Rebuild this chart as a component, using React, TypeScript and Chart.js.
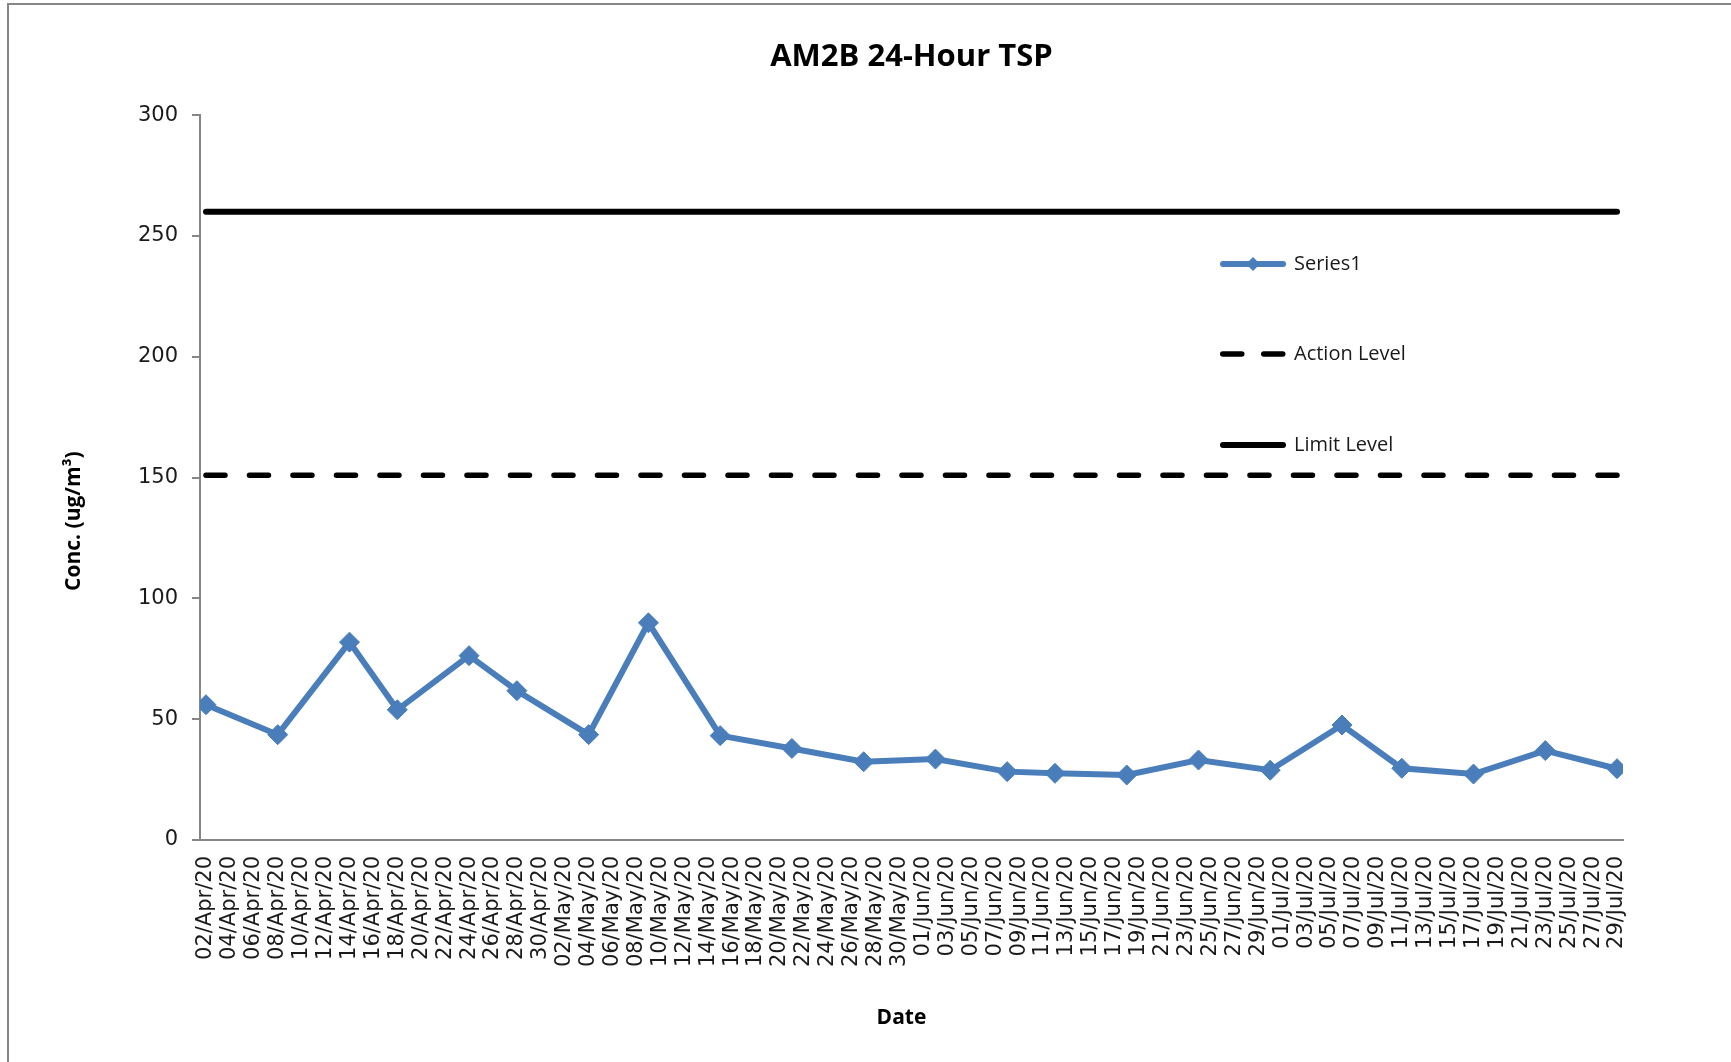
import React, { useEffect, useRef } from "react";
import { Chart, registerables } from "chart.js";

Chart.register(...registerables);

// ---- data ----
const chartTitle = "AM2B 24-Hour TSP";
const yAxisTitle = "Conc. (ug/m³)";
const xAxisTitle = "Date";

const sampleDates = [
  "02/Apr/20", "08/Apr/20", "14/Apr/20", "18/Apr/20", "24/Apr/20", "28/Apr/20",
  "04/May/20", "09/May/20", "15/May/20", "21/May/20", "27/May/20",
  "02/Jun/20", "08/Jun/20", "12/Jun/20", "18/Jun/20", "24/Jun/20", "30/Jun/20",
  "06/Jul/20", "11/Jul/20", "17/Jul/20", "23/Jul/20", "29/Jul/20",
];
const series1Values = [
  56.0, 43.6, 81.9, 53.9, 76.3, 61.8,
  43.6, 89.9, 43.2, 37.9, 32.4,
  33.5, 28.3, 27.6, 26.9, 33.1, 28.9,
  47.6, 29.7, 27.3, 37.0, 29.5,
];
const actionLevel = 151;
const limitLevel = 260;

const axisStartDate = "02/Apr/20";
const axisEndDate = "29/Jul/20";
const tickStepDays = 2;
const yTickValues = [0, 50, 100, 150, 200, 250, 300];

const monthNames = ["Jan", "Feb", "Mar", "Apr", "May", "Jun", "Jul", "Aug", "Sep", "Oct", "Nov", "Dec"];

// ---- helpers ----
const DAY = 86400000;
function parseDate(s: string): number {
  const [d, m, y] = s.split("/");
  return Date.UTC(2000 + Number(y), monthNames.indexOf(m), Number(d));
}
const t0 = parseDate(axisStartDate);
const toOffset = (s: string) => Math.round((parseDate(s) - t0) / DAY);
const endOffset = toOffset(axisEndDate);
function formatOffset(v: number): string {
  const dt = new Date(t0 + v * DAY);
  const dd = String(dt.getUTCDate()).padStart(2, "0");
  const yy = String(dt.getUTCFullYear() % 100).padStart(2, "0");
  return `${dd}/${monthNames[dt.getUTCMonth()]}/${yy}`;
}

const SERIES_COLOR = "#4A7EBB";
const AXIS_COLOR = "#868686";
const TEXT_COLOR = "#1a1a1a";

const legendPlugin = {
  id: "customLegend",
  afterDraw(chart: any) {
    const ctx = chart.ctx;
    const x0 = 1220;
    const rows = [264, 354, 445];
    const sampleLen = 66;
    ctx.save();
    chart.data.datasets.forEach((ds: any, i: number) => {
      const y = rows[i];
      ctx.beginPath();
      ctx.strokeStyle = ds.borderColor;
      ctx.lineWidth = ds.borderWidth;
      ctx.lineCap = "round";
      ctx.setLineDash(ds.borderDash ? [19, 22] : []);
      ctx.moveTo(x0 + ds.borderWidth / 2, y);
      ctx.lineTo(x0 + sampleLen - ds.borderWidth / 2, y);
      ctx.stroke();
      ctx.setLineDash([]);
      if (ds.pointRadius > 0) {
        const r = 7;
        const cx = x0 + sampleLen / 2;
        ctx.beginPath();
        ctx.fillStyle = ds.pointBackgroundColor;
        ctx.moveTo(cx, y - r);
        ctx.lineTo(cx + r, y);
        ctx.lineTo(cx, y + r);
        ctx.lineTo(cx - r, y);
        ctx.closePath();
        ctx.fill();
      }
      ctx.fillStyle = TEXT_COLOR;
      ctx.font = "20px 'Open Sans'";
      ctx.textBaseline = "middle";
      ctx.textAlign = "left";
      ctx.fillText(ds.label, x0 + sampleLen + 8, y);
    });
    ctx.restore();
  },
};

const axisTitlePlugin = {
  id: "axisTitles",
  afterDraw(chart: any) {
    const ctx = chart.ctx;
    const area = chart.chartArea;
    ctx.save();
    ctx.fillStyle = "#000";
    ctx.font = "bold 21px 'Open Sans'";
    ctx.textAlign = "center";
    ctx.textBaseline = "middle";
    ctx.save();
    ctx.translate(74, area.top + (area.bottom - area.top) * 0.56);
    ctx.rotate(-Math.PI / 2);
    ctx.fillText(yAxisTitle, 0, 0);
    ctx.restore();
    ctx.fillText(xAxisTitle, (area.left + area.right) / 2 - 10, 1018);
    ctx.restore();
  },
};

export default function App() {
  const canvasRef = useRef<HTMLCanvasElement | null>(null);

  useEffect(() => {
    if (!canvasRef.current) return;
    const seriesPoints = sampleDates.map((d, i) => ({ x: toOffset(d), y: series1Values[i] }));
    const chart = new Chart(canvasRef.current, {
      type: "line",
      data: {
        datasets: [
          {
            label: "Series1",
            data: seriesPoints,
            borderColor: SERIES_COLOR,
            backgroundColor: SERIES_COLOR,
            borderWidth: 6,
            pointStyle: "rectRot",
            pointRadius: 10,
            pointBackgroundColor: SERIES_COLOR,
            pointBorderColor: SERIES_COLOR,
            pointBorderWidth: 1,
            tension: 0,
            order: 0,
          } as any,
          {
            label: "Action Level",
            data: [
              { x: 0, y: actionLevel },
              { x: endOffset, y: actionLevel },
            ],
            borderColor: "#000",
            borderWidth: 5.5,
            borderDash: [19, 24.5],
            borderCapStyle: "round",
            pointRadius: 0,
            order: 1,
          } as any,
          {
            label: "Limit Level",
            data: [
              { x: 0, y: limitLevel },
              { x: endOffset, y: limitLevel },
            ],
            borderColor: "#000",
            borderWidth: 6,
            borderCapStyle: "round",
            pointRadius: 0,
            order: 2,
          } as any,
        ],
      },
      options: {
        animation: false,
        responsive: false,
        maintainAspectRatio: false,
        layout: { padding: { left: 0, top: 0, right: 108, bottom: 0 } },
        plugins: {
          legend: { display: false },
          tooltip: { enabled: false },
          title: {
            display: true,
            fullSize: false,
            text: chartTitle,
            color: "#000",
            font: { family: "'Open Sans'", size: 31, weight: "bold", lineHeight: 1.2 },
            padding: { top: 39, bottom: 39 },
          },
        },
        scales: {
          x: {
            type: "linear",
            min: -0.5,
            max: endOffset + 0.5,
            afterBuildTicks: (scale: any) => {
              const ticks = [];
              for (let v = 0; v <= endOffset; v += tickStepDays) ticks.push({ value: v });
              scale.ticks = ticks;
            },
            afterFit: (scale: any) => {
              scale.height = 222;
            },
            grid: { drawOnChartArea: false, drawTicks: false },
            border: { display: true, color: AXIS_COLOR, width: 2 },
            ticks: {
              autoSkip: false,
              maxRotation: 90,
              minRotation: 90,
              padding: 16,
              color: TEXT_COLOR,
              font: { family: "'DejaVu Sans'", size: 21 },
              callback: (v: any) => formatOffset(Number(v)),
            },
          },
          y: {
            type: "linear",
            min: 0,
            max: 300,
            afterBuildTicks: (scale: any) => {
              scale.ticks = yTickValues.map((v) => ({ value: v }));
            },
            afterFit: (scale: any) => {
              scale.width = 200;
            },
            grid: {
              drawOnChartArea: false,
              drawTicks: true,
              tickLength: 8,
              color: AXIS_COLOR,
              lineWidth: 2,
            },
            border: { display: true, color: AXIS_COLOR, width: 2 },
            ticks: {
              padding: 14,
              color: TEXT_COLOR,
              font: { family: "'DejaVu Sans'", size: 21 },
            },
          },
        },
      },
      plugins: [legendPlugin, axisTitlePlugin],
    } as any);
    return () => chart.destroy();
  }, []);

  return (
    <div style={{ position: "fixed", left: 0, top: 0, width: 1731, height: 1062, background: "#fff", overflow: "hidden" }}>
      <div
        style={{
          position: "absolute",
          left: 7,
          top: 3,
          width: 1760,
          height: 1100,
          borderLeft: "2px solid #868686",
          borderTop: "2px solid #868686",
          boxSizing: "border-box",
        }}
      />
      <canvas ref={canvasRef} width={1731} height={1062} style={{ position: "absolute", left: 0, top: 0 }} />
    </div>
  );
}
